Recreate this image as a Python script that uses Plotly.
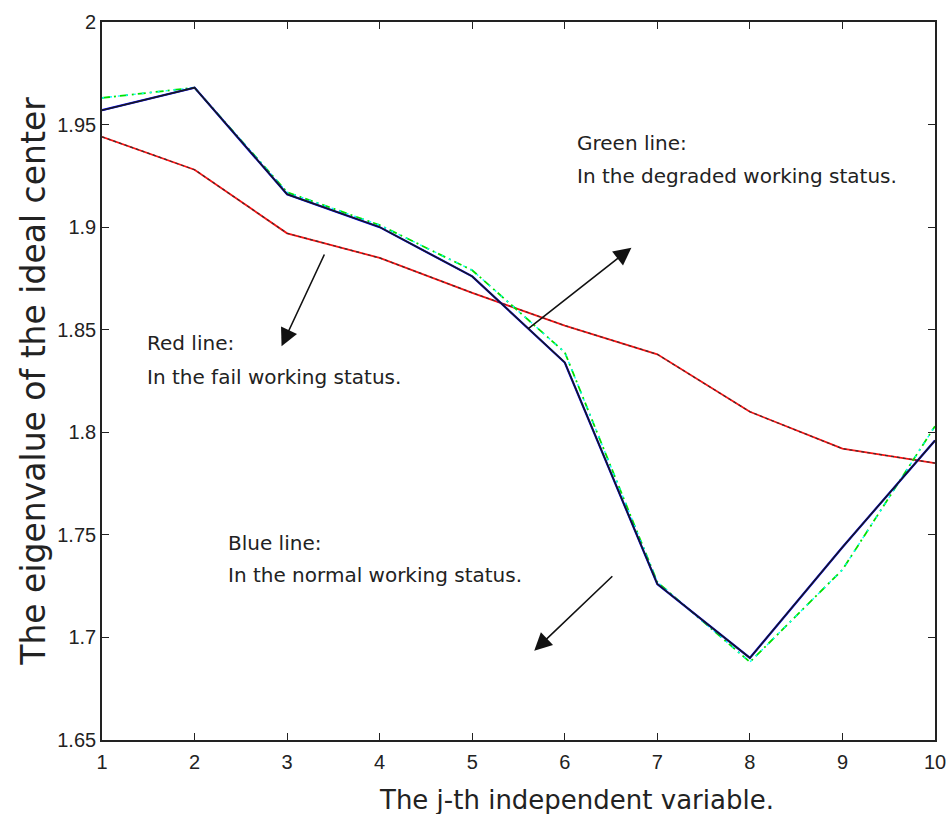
import plotly.graph_objects as go

# j-th independent variable
j_index = [1, 2, 3, 4, 5, 6, 7, 8, 9, 10]

# eigenvalue of the ideal center for the three working statuses
normal_status = [1.957, 1.968, 1.916, 1.900, 1.876, 1.834, 1.726, 1.690, 1.744, 1.796]
degraded_status = [1.963, 1.968, 1.917, 1.901, 1.879, 1.839, 1.727, 1.688, 1.733, 1.803]
fail_status = [1.944, 1.928, 1.897, 1.885, 1.868, 1.852, 1.838, 1.810, 1.792, 1.785]

y_ticks = [1.65, 1.7, 1.75, 1.8, 1.85, 1.9, 1.95, 2.0]

fig = go.Figure()

# fail status: red with a black dashed overlay
fig.add_trace(go.Scatter(x=j_index, y=fail_status, mode="lines",
                         line=dict(color="#ff1010", width=1.8), showlegend=False))
fig.add_trace(go.Scatter(x=j_index, y=fail_status, mode="lines",
                         line=dict(color="#333333", width=1.2, dash="3px,3px"),
                         showlegend=False))

# degraded status: green dash-dot with cyan dots
fig.add_trace(go.Scatter(x=j_index, y=degraded_status, mode="lines",
                         line=dict(color="#00e000", width=1.8, dash="8px,4px,2px,4px"),
                         showlegend=False))
fig.add_trace(go.Scatter(x=j_index, y=degraded_status, mode="lines",
                         line=dict(color="cyan", width=1.4, dash="2px,6px"),
                         showlegend=False))

# normal status: blue under a black solid line
fig.add_trace(go.Scatter(x=j_index, y=normal_status, mode="lines",
                         line=dict(color="blue", width=2.2), showlegend=False))
fig.add_trace(go.Scatter(x=j_index, y=normal_status, mode="lines",
                         line=dict(color="#1a1a1a", width=1.5),
                         showlegend=False))

text_font = dict(family="DejaVu Sans, sans-serif", size=20, color="#222222")

labels = [
    (6.11, 1.941, "Green line:"),
    (6.11, 1.925, "In the degraded working status."),
    (1.46, 1.8436, "Red line:"),
    (1.46, 1.827, "In the fail working status."),
    (2.34, 1.746, "Blue line:"),
    (2.34, 1.7305, "In the normal working status."),
]
for lx, ly, txt in labels:
    fig.add_annotation(x=lx, y=ly, text=txt, showarrow=False, xanchor="left",
                       yanchor="middle", font=text_font)

# pointer arrows: (tail x, tail y, head x, head y)
arrows = [
    (5.59, 1.850, 6.72, 1.890),
    (3.41, 1.8874, 2.94, 1.8420),
    (6.53, 1.7305, 5.67, 1.6935),
]
for tx, ty, hx, hy in arrows:
    fig.add_annotation(x=hx, y=hy, ax=tx, ay=ty, xref="x", yref="y",
                       axref="x", ayref="y", text="", showarrow=True,
                       arrowhead=2, arrowsize=2.2, arrowwidth=1.6,
                       arrowcolor="#111111")

# x-axis title, set slightly right of the plot centre
fig.add_annotation(x=0.57, y=-0.084, xref="paper", yref="paper",
                   text="The j-th independent variable.", showarrow=False,
                   xanchor="center", yanchor="middle",
                   font=dict(family="DejaVu Sans, sans-serif", size=26, color="#222222"))

tick_font = dict(family="Liberation Sans, Arial, sans-serif", size=20, color="#222222")

fig.update_xaxes(range=[1, 10], tickvals=j_index, ticktext=[str(v) for v in j_index],
                 ticks="inside", ticklen=7, tickcolor="#222222", tickwidth=1.2,
                 showline=True, linecolor="#222222", linewidth=1.6, mirror="ticks",
                 showgrid=False, zeroline=False, tickfont=tick_font,
                 ticklabelstandoff=3, ticklabeloverflow="allow")
fig.update_yaxes(range=[1.65, 2.0], tickvals=y_ticks,
                 ticks="inside", ticklen=7, tickcolor="#222222", tickwidth=1.2,
                 showline=True, linecolor="#222222", linewidth=1.6, mirror="ticks",
                 showgrid=False, zeroline=False, tickfont=tick_font,
                 title=dict(text="The eigenvalue of the ideal center",
                            font=dict(family="DejaVu Sans, sans-serif",
                                      size=33, color="#222222"),
                            standoff=2))

fig.update_layout(width=952, height=814, plot_bgcolor="white", paper_bgcolor="white",
                  margin=dict(l=102, r=6, t=22, b=74))

fig.write_html("out.html")
